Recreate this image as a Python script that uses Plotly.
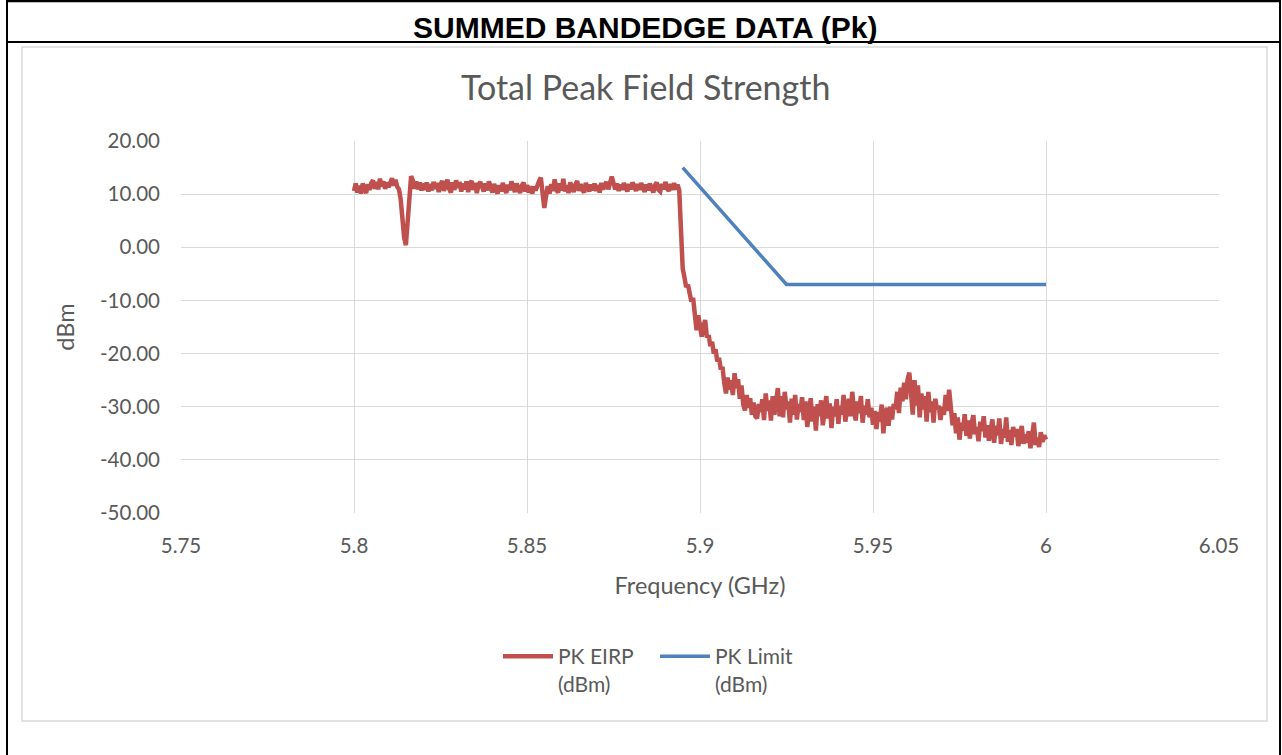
import numpy as np
import plotly.graph_objects as go

# ---------------- data ----------------
f_start, f_stop = 5.8, 6.0

eirp_plateau = [
    10.6, 12.0, 10.3, 11.6, 10.1, 12.0, 11.0, 10.2, 11.9, 10.8,
    12.1, 12.6, 11.0, 12.3, 10.9, 12.9, 11.5, 12.4, 11.0, 12.2,
    11.3, 12.5, 13.0, 11.6, 12.7, 11.4, 10.9, 9.0, 5.0, 1.8,
    0.4, 4.5, 10.2, 13.4, 12.6, 11.0, 12.4, 10.9, 12.2, 10.7,
    12.0, 10.8, 12.2, 10.5, 11.9, 10.7, 12.3, 11.0, 12.1, 10.4,
    11.8, 12.5, 10.6, 12.1, 12.7, 11.0, 10.3, 12.2, 10.8, 12.6,
    11.2, 12.3, 10.5, 12.0, 10.9, 12.4, 10.4, 11.9, 12.5, 10.8,
    12.1, 10.2, 11.8, 12.3, 11.0, 10.5, 12.0, 10.7, 12.4, 11.1,
    10.3, 11.9, 10.8, 10.1, 11.7, 10.5, 12.1, 10.9, 10.2, 11.8,
    10.7, 12.4, 11.1, 10.4, 12.0, 10.8, 10.2, 11.6, 12.2, 10.5,
    11.7, 10.3, 11.5, 10.1, 11.4, 10.7, 11.8, 12.5, 13.1, 10.2,
    7.4, 9.6, 11.5, 10.1, 11.9, 10.6, 12.8, 10.8, 10.3, 12.0,
    10.7, 12.9, 10.5, 11.7, 10.2, 12.2, 10.9, 10.4, 11.8, 12.5,
    10.6, 11.9, 10.8, 10.3, 12.1, 11.0, 10.5, 11.8, 10.7, 12.0,
    10.6, 11.7, 10.3, 12.1, 10.9, 11.7, 12.3, 10.9, 12.6, 13.3,
    12.1, 10.9, 12.0, 10.6, 11.8, 10.8, 12.1, 11.0, 10.5, 11.9,
    10.9, 12.2, 11.1, 10.6, 11.9, 10.8, 12.1, 11.0, 10.4, 11.8,
    10.7, 12.0, 10.9, 10.3, 11.7, 12.2, 10.8, 10.5, 11.9, 10.9,
    12.3, 11.0, 10.6, 11.9, 10.8, 12.1, 10.9, 11.8, 10.7,
]

eirp_rolloff = [
    2.0, -4.0, -5.6, -7.5, -7.0, -8.6, -10.2, -9.5, -12.0, -15.6,
    -12.8, -14.5, -16.8, -14.8, -13.7, -17.0, -16.5, -18.6, -17.8, -20.0,
    -19.2, -21.5, -20.8, -23.0, -22.5, -25.5, -27.5, -24.5, -26.8, -25.0,
    -27.8, -23.7, -26.5, -24.8, -28.5, -26.0, -29.6, -30.7, -27.8, -30.2,
    -28.4, -31.5, -29.2, -31.8, -32.2, -29.5, -31.0, -28.6, -32.5, -27.5,
    -30.8, -28.8, -32.6, -28.0, -31.5, -29.0, -26.5, -31.8,
]

eirp_floor = [
    -28.0, -32.0, -27.2, -30.5, -29.0, -33.0, -28.5, -31.5, -27.8, -32.4,
    -29.5, -31.0, -28.2,
    -32.5, -29.0, -33.8, -30.2, -28.4, -32.8, -30.0, -34.5, -29.5, -31.8,
    -28.8, -33.5, -30.6, -28.0, -32.2, -29.4, -34.0, -30.0, -31.8, -28.6,
    -33.2, -29.8, -31.5, -27.8, -32.8, -30.4,
    -28.5, -31.8, -27.2, -30.5, -32.6, -29.0, -31.2, -28.0, -33.0, -29.8,
    -31.5, -28.6, -32.0, -30.2, -33.4,
    -30.8, -34.2, -31.0, -32.8, -29.6, -35.0, -31.5, -30.2, -33.6, -30.0,
    -32.4, -29.5,
    -30.5, -27.2, -31.2, -26.4, -29.0, -25.5, -28.6, -24.8, -23.6, -27.0,
    -31.5, -25.0, -29.8, -26.0, -32.0, -27.5, -30.5, -28.0, -32.8, -27.2,
    -31.0, -29.0, -33.0, -28.5, -30.5, -29.8, -32.5, -30.0, -31.5, -27.8,
    -30.8, -26.8, -31.5,
    -33.5, -31.2, -35.0, -32.0, -36.2, -33.0, -34.5, -31.4, -35.5, -32.6,
    -36.0, -33.2, -31.6, -35.2, -33.8, -36.5, -32.8, -34.6, -31.8, -35.8,
    -33.5, -36.4, -34.0, -32.4, -36.8, -33.6, -35.4, -32.2, -37.0, -34.2,
    -35.8, -32.0, -36.6, -34.4, -37.2, -33.8, -35.6, -34.2, -37.4, -35.0,
    -33.6, -37.0, -35.2, -36.8, -34.6, -37.8, -35.4, -33.0, -37.2, -35.8,
    -37.6, -34.8, -36.6, -35.4, -36.2,
]

limit_freq = [5.895, 5.925, 6.0]
limit_dbm = [15.0, -7.0, -7.0]

x_ticks = [5.75, 5.8, 5.85, 5.9, 5.95, 6.0, 6.05]
x_tick_labels = ["5.75", "5.8", "5.85", "5.9", "5.95", "6", "6.05"]
y_ticks = [20, 10, 0, -10, -20, -30, -40, -50]
y_tick_labels = ["20.00", "10.00", "0.00", "-10.00", "-20.00", "-30.00", "-40.00", "-50.00"]

eirp = eirp_plateau + eirp_rolloff + eirp_floor
eirp_freq = np.linspace(f_start, f_stop, len(eirp))

# ---------------- figure ----------------
W, H = 1282, 755
L, R, T, B = 181, 1219, 141, 513

def px(x):
    return (x - L) / (R - L)

def py(y):
    return (B - y) / (B - T)

fig = go.Figure()
fig.add_trace(go.Scatter(
    x=eirp_freq, y=eirp, mode="lines", name="PK EIRP<br>(dBm)",
    line=dict(color="#C0504D", width=4.5),
))
fig.add_trace(go.Scatter(
    x=limit_freq, y=limit_dbm, mode="lines", name="PK Limit<br>(dBm)",
    line=dict(color="#4F81BD", width=3.5),
))

grey = "#595959"
fig.update_layout(
    width=W, height=H,
    paper_bgcolor="white", plot_bgcolor="white",
    margin=dict(l=L, r=W - R, t=T, b=H - B),
    font=dict(family="Lato, Open Sans, sans-serif", color=grey, size=20),
    showlegend=True,
    legend=dict(
        orientation="h", x=px(498), xanchor="left", y=py(636), yanchor="top",
        font=dict(size=21, color=grey), valign="top",
        itemwidth=50, tracegroupgap=0,
        entrywidth=92, entrywidthmode="pixels",
    ),
    xaxis=dict(
        range=[5.75, 6.05], tickvals=x_ticks, ticktext=x_tick_labels,
        showgrid=True, gridcolor="#d9d9d9", gridwidth=1.3, zeroline=False,
        showline=False, ticks="", tickfont=dict(size=20.5, color=grey),
        ticklabelstandoff=18,
        title=dict(text="Frequency (GHz)", font=dict(size=23.5, color=grey), standoff=22),
    ),
    yaxis=dict(
        range=[-50, 20], tickvals=y_ticks, ticktext=y_tick_labels,
        showgrid=True, gridcolor="#d9d9d9", gridwidth=1.3, zeroline=False,
        showline=False, ticks="", tickfont=dict(size=20.5, color=grey),
        ticklabelstandoff=20,
        title=dict(text="dBm", font=dict(size=23.5, color=grey), standoff=18),
    ),
)

shapes = []
# inner chart frame (light grey)
shapes.append(dict(type="rect", xref="paper", yref="paper",
                   x0=px(22), x1=px(1267), y0=py(47), y1=py(721),
                   line=dict(color="#d9d9d9", width=1.5), layer="below"))
# outer black table frame
for (x0, y0, x1, y1, w) in [
    (7, 1, 1280, 1, 2.5),
    (7, 42, 1280, 42, 2),
    (7, 0, 7, 755, 2),
    (1280, 0, 1280, 755, 2),
]:
    shapes.append(dict(type="line", xref="paper", yref="paper",
                       x0=px(x0), x1=px(x1), y0=py(y0), y1=py(y1),
                       line=dict(color="black", width=w)))
fig.update_layout(shapes=shapes)

fig.add_annotation(
    text="<b>SUMMED BANDEDGE DATA (Pk)</b>", xref="paper", yref="paper",
    x=px(645), y=py(27), xanchor="center", yanchor="middle", showarrow=False,
    font=dict(family="Liberation Sans, Arial, sans-serif", size=30, color="black"),
)
fig.add_annotation(
    text="Total Peak Field Strength", xref="paper", yref="paper",
    x=px(645), y=py(87), xanchor="center", yanchor="middle", showarrow=False,
    font=dict(family="Lato, Open Sans, sans-serif", size=34, color=grey),
)

fig.write_html(
    "out.html",
    config={"displayModeBar": False},
    post_script="document.body.style.margin='0';document.body.style.overflow='hidden';",
)
